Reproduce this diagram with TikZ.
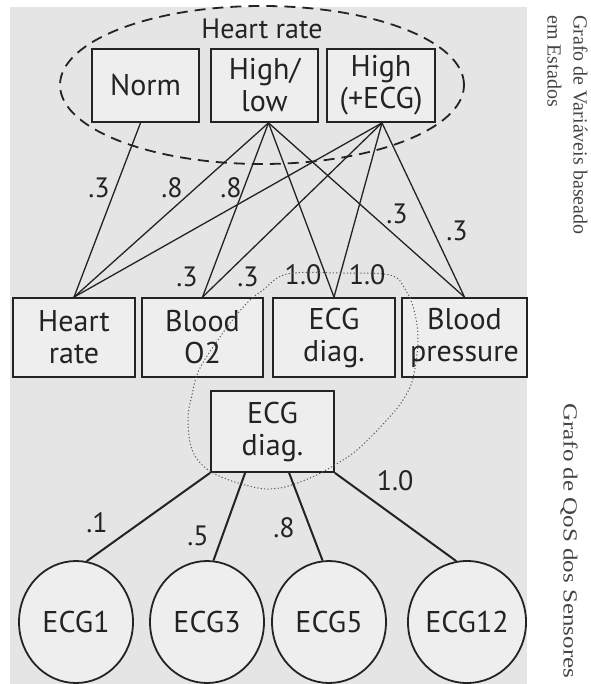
\documentclass[tikz,border=0pt]{standalone}
\usepackage{fontspec}
\setmainfont{PT Sans}
\newfontfamily\sidefont{Liberation Serif}
\usetikzlibrary{shapes.geometric}
\definecolor{panel}{RGB}{229,229,229}
\definecolor{boxfill}{RGB}{238,238,238}
\definecolor{ink}{RGB}{35,35,35}
\begin{document}
\begin{tikzpicture}[x=1pt,y=-1pt,
  state/.style={draw=ink, line width=1.8pt, fill=boxfill, inner sep=0pt, align=center,
    font=\fontsize{30}{32}\selectfont, text=ink},
  toprow/.style={state, minimum width=107pt, minimum height=73pt},
  midrow/.style={state, minimum width=122pt, minimum height=79pt},
  sensor/.style={ellipse, draw=ink, line width=1.8pt, fill=boxfill, inner sep=0pt,
    minimum width=114pt, minimum height=122pt, font=\fontsize{30}{32}\selectfont, text=ink},
  link/.style={draw=ink, line width=1.3pt},
  qos/.style={draw=ink, line width=2pt},
  weight/.style={font=\fontsize{28}{28}\selectfont, text=ink, inner sep=0pt},
  side/.style={font=\sidefont\fontsize{20}{26}\selectfont, text=ink!85, rotate=-90, inner sep=0pt, align=left},
]
\useasboundingbox (0,0) rectangle (590,684);
\fill[panel] (10,7) rectangle (527,684);

% state-based variable graph
\draw[ink, line width=1.8pt, dash pattern=on 11pt off 7pt] (262,85) ellipse [x radius=202pt, y radius=79pt];
\node[weight] (hrtitle) at (262,29) {Heart rate};

\node[toprow] (norm) at (145.5,85.5) {Norm};
\node[toprow] (hl) at (264.5,85.5) {High/\\low};
\node[toprow, minimum width=108pt] (hp) at (381,85.5) {High\\(+ECG)};

\node[midrow] (hr) at (74,337.5) {Heart\\rate};
\node[midrow, minimum width=121pt] (o2) at (202.5,337.5) {Blood\\O2};
\node[midrow] (ecgm) at (334,337.5) {ECG\\diag.};
\node[midrow, minimum width=125pt] (bp) at (464.5,337.5) {Blood\\pressure};

\coordinate[xshift=-5pt] (nS) at (norm.south);
\coordinate[xshift=4pt] (hlS) at (hl.south);
\coordinate[xshift=1pt] (hpS) at (hp.south);

\draw[link] (nS) -- (hr.north);
\foreach \t in {hr,o2,ecgm,bp} {
  \draw[link] (hlS) -- (\t.north);
  \draw[link] (hpS) -- (\t.north);
}

\node[weight] (w1) at (99,188) {.3};
\node[weight] (w2) at (172,188) {.8};
\node[weight] (w3) at (231,188) {.8};
\node[weight] (w4) at (397,214) {.3};
\node[weight] (w5) at (457,231) {.3};
\node[weight] (w6) at (187,277) {.3};
\node[weight] (w7) at (248,277) {.3};
\node[weight] (w8) at (303,275) {1.0};
\node[weight] (w9) at (367,275) {1.0};

% sensor QoS graph
\node[state, minimum width=123pt, minimum height=81pt] (ecgd) at (272.5,431.5) {ECG\\diag.};

\draw[ink!75, line width=1pt, dash pattern=on 1.2pt off 2.2pt] plot[smooth cycle, tension=0.6] coordinates {
  (287,274) (340,273) (390,275) (405,289) (414,310) (418,340) (413,378) (403,400)
  (385,422) (357,450) (333,466) (310,478) (280,488) (253,487) (213,473) (193,452)
  (188,420) (192,395) (200,368) (225,330) (247,303) (263,290)};

\node[sensor] (e1) at (76,622) {ECG1};
\node[sensor] (e3) at (207,622) {ECG3};
\node[sensor] (e5) at (329,622) {ECG5};
\node[sensor] (e12) at (467,622) {ECG12};

\coordinate[xshift=35pt] (d3) at (ecgd.south west);
\coordinate[xshift=79pt] (d5) at (ecgd.south west);

\draw[qos] (ecgd.south west) -- (e1.80);
\draw[qos] (d3) -- (e3.84);
\draw[qos] (d5) -- (e5.96);
\draw[qos] (ecgd.south east) -- (e12.100);

\node[weight] (q1) at (97,523) {.1};
\node[weight] (q3) at (198,536) {.5};
\node[weight] (q5) at (284,528) {.8};
\node[weight] (q12) at (395,481) {1.0};

% side captions
\node[side, anchor=north west] (cap1) at (588,15) {Grafo de Variáveis baseado\\em Estados};
\node[side, anchor=west] (cap2) at (569,403) {\scalebox{1.25}[1]{Grafo de QoS dos Sensores}};
\end{tikzpicture}
\end{document}
